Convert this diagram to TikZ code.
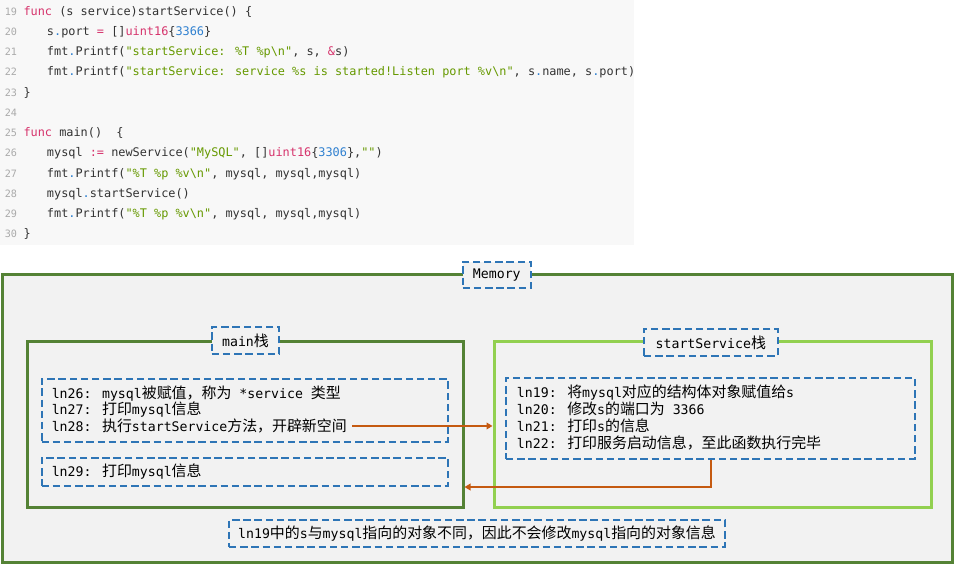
\documentclass[tikz,border=0pt]{standalone}
\usepackage{fontspec}
\newfontfamily\codefont{DejaVu Sans Mono}
\newfontfamily\cjk{Noto Sans CJK SC}
\usetikzlibrary{arrows.meta,fit}
\definecolor{codebg}{HTML}{F8F8F8}
\definecolor{codetxt}{HTML}{333333}
\definecolor{lnum}{HTML}{AAAAAA}
\definecolor{kwred}{HTML}{D6336C}
\definecolor{strgreen}{HTML}{669900}
\definecolor{numblue}{HTML}{2F80D0}
\definecolor{dgreen}{HTML}{548235}
\definecolor{lgreen}{HTML}{92D050}
\definecolor{dblue}{HTML}{2E75B6}
\definecolor{panel}{HTML}{F2F2F2}
\definecolor{arrorange}{HTML}{C55A11}
\newcommand\kw[1]{\textcolor{kwred}{#1}}
\newcommand\st[1]{\textcolor{strgreen}{#1}}
\newcommand\nm[1]{\textcolor{numblue}{#1}}
\newcommand\dt{\textcolor{numblue}{.}}
\newcommand\zh[1]{{\cjk\fontsize{11.2}{12.6}\selectfont #1}}
\tikzset{
  codeline/.style={anchor=base west, inner sep=0pt, text=codetxt,
    font=\codefont\fontsize{8.9}{10}\selectfont},
  lnno/.style={anchor=base west, inner sep=0pt, text=lnum,
    font=\codefont\fontsize{7.6}{10}\selectfont},
  frame/.style={draw=#1, line width=2.25pt, fill=panel, inner sep=0pt},
  dbox/.style={draw=dblue, line width=1.5pt, dash pattern=on 5.6pt off 2.8pt, inner sep=0pt},
  lbl/.style={dbox, fill=panel, font=\codefont\fontsize{9.9}{12.6}\selectfont},
  txt/.style={anchor=base west, inner sep=0pt, font=\codefont\fontsize{9.9}{12.6}\selectfont},
  arr/.style={draw=arrorange, line width=1.5pt, -{Triangle[length=4.5pt,width=5pt]}}
}
\begin{document}
\begin{tikzpicture}[x=0.75pt,y=-0.75pt]
\useasboundingbox (0,0) rectangle (955,565);
% code block
\node[fill=codebg, inner sep=0pt, fit={(0,0)(634,245)}] (code) {};
\foreach \n [count=\i from 0] in {19,...,30}
  \node[lnno] (ln\n) at (4.5,{15+20.25*\i}) {\n};
\node[codeline] (c19) at (23.3,15) {\kw{func} (s service)startService() \{};
\node[codeline] (c20) at (46.7,35.25) {s\dt port \kw{=} []\kw{uint16}\{\nm{3366}\}};
\node[codeline] (c21) at (46.7,55.5) {fmt\dt Printf(\st{"startService: \%T \%p\textbackslash n"}, s, \kw{\&}s)};
\node[codeline] (c22) at (46.7,75.75) {fmt\dt Printf(\st{"startService: service \%s is started!Listen port \%v\textbackslash n"}, s\dt name, s\dt port)};
\node[codeline] (c23) at (23.3,96) {\}};
\node[codeline] (c25) at (23.3,136.5) {\kw{func} main()\ \ \{};
\node[codeline] (c26) at (46.7,156.75) {mysql \kw{:=} newService(\st{"MySQL"}, []\kw{uint16}\{\nm{3306}\},\st{""})};
\node[codeline] (c27) at (46.7,177) {fmt\dt Printf(\st{"\%T \%p \%v\textbackslash n"}, mysql, mysql,mysql)};
\node[codeline] (c28) at (46.7,197.25) {mysql\dt startService()};
\node[codeline] (c29) at (46.7,217.5) {fmt\dt Printf(\st{"\%T \%p \%v\textbackslash n"}, mysql, mysql,mysql)};
\node[codeline] (c30) at (23.3,237.75) {\}};
% memory frames
\node[frame=dgreen, fit={(2.5,274.5)(952,562.5)}] (mem) {};
\node[frame=dgreen, fit={(27,341)(463,507)}] (main) {};
\node[frame=lgreen, fit={(494,341)(931,507)}] (ss) {};
% dashed boxes
\node[dbox, fit={(41.5,379)(448,441.5)}] (b1) {};
\node[dbox, fit={(41.5,458)(448,486)}] (b2) {};
\node[dbox, fit={(506,378)(915,459)}] (rb) {};
% labels
\node[lbl, minimum width=51.2pt, minimum height=20pt] (memlbl) at (496.8,275) {Memory};
\node[lbl, minimum width=50.7pt, minimum height=20.5pt] (mainlbl) at (245.5,340.5) {main\zh{栈}};
\node[lbl, minimum width=100.3pt, minimum height=20.25pt] (sslbl) at (710.8,342.5) {startService\zh{栈}};
\node[lbl, minimum width=372pt, minimum height=19.9pt] (note) at (477,533.25) {ln19\zh{中的}s\zh{与}mysql\zh{指向的对象不同，因此不会修改}mysql\zh{指向的对象信息}};
% text lines
\node[txt] (l26) at (51.5,398) {ln26: mysql\zh{被赋值，称为} *service \zh{类型}};
\node[txt] (l27) at (51.5,414.5) {ln27: \zh{打印}mysql\zh{信息}};
\node[txt] (l28) at (51.5,431.5) {ln28: \zh{执行}startService\zh{方法，开辟新空间}};
\node[txt] (l29) at (51.5,476.5) {ln29: \zh{打印}mysql\zh{信息}};
\node[txt] (r19) at (516.7,397) {ln19: \zh{将}mysql\zh{对应的结构体对象赋值给}s};
\node[txt] (r20) at (516.7,414.3) {ln20: \zh{修改}s\zh{的端口为} 3366};
\node[txt] (r21) at (516.7,431.6) {ln21: \zh{打印}s\zh{的信息}};
\node[txt] (r22) at (516.7,448.9) {ln22: \zh{打印服务启动信息，至此函数执行完毕}};
% arrows
\draw[arr, shorten <=3.75pt] (l28.east) -- (ss.west |- l28.east);
\draw[arr] (rb.south) |- (main.east |- b2.south);
\end{tikzpicture}
\end{document}
